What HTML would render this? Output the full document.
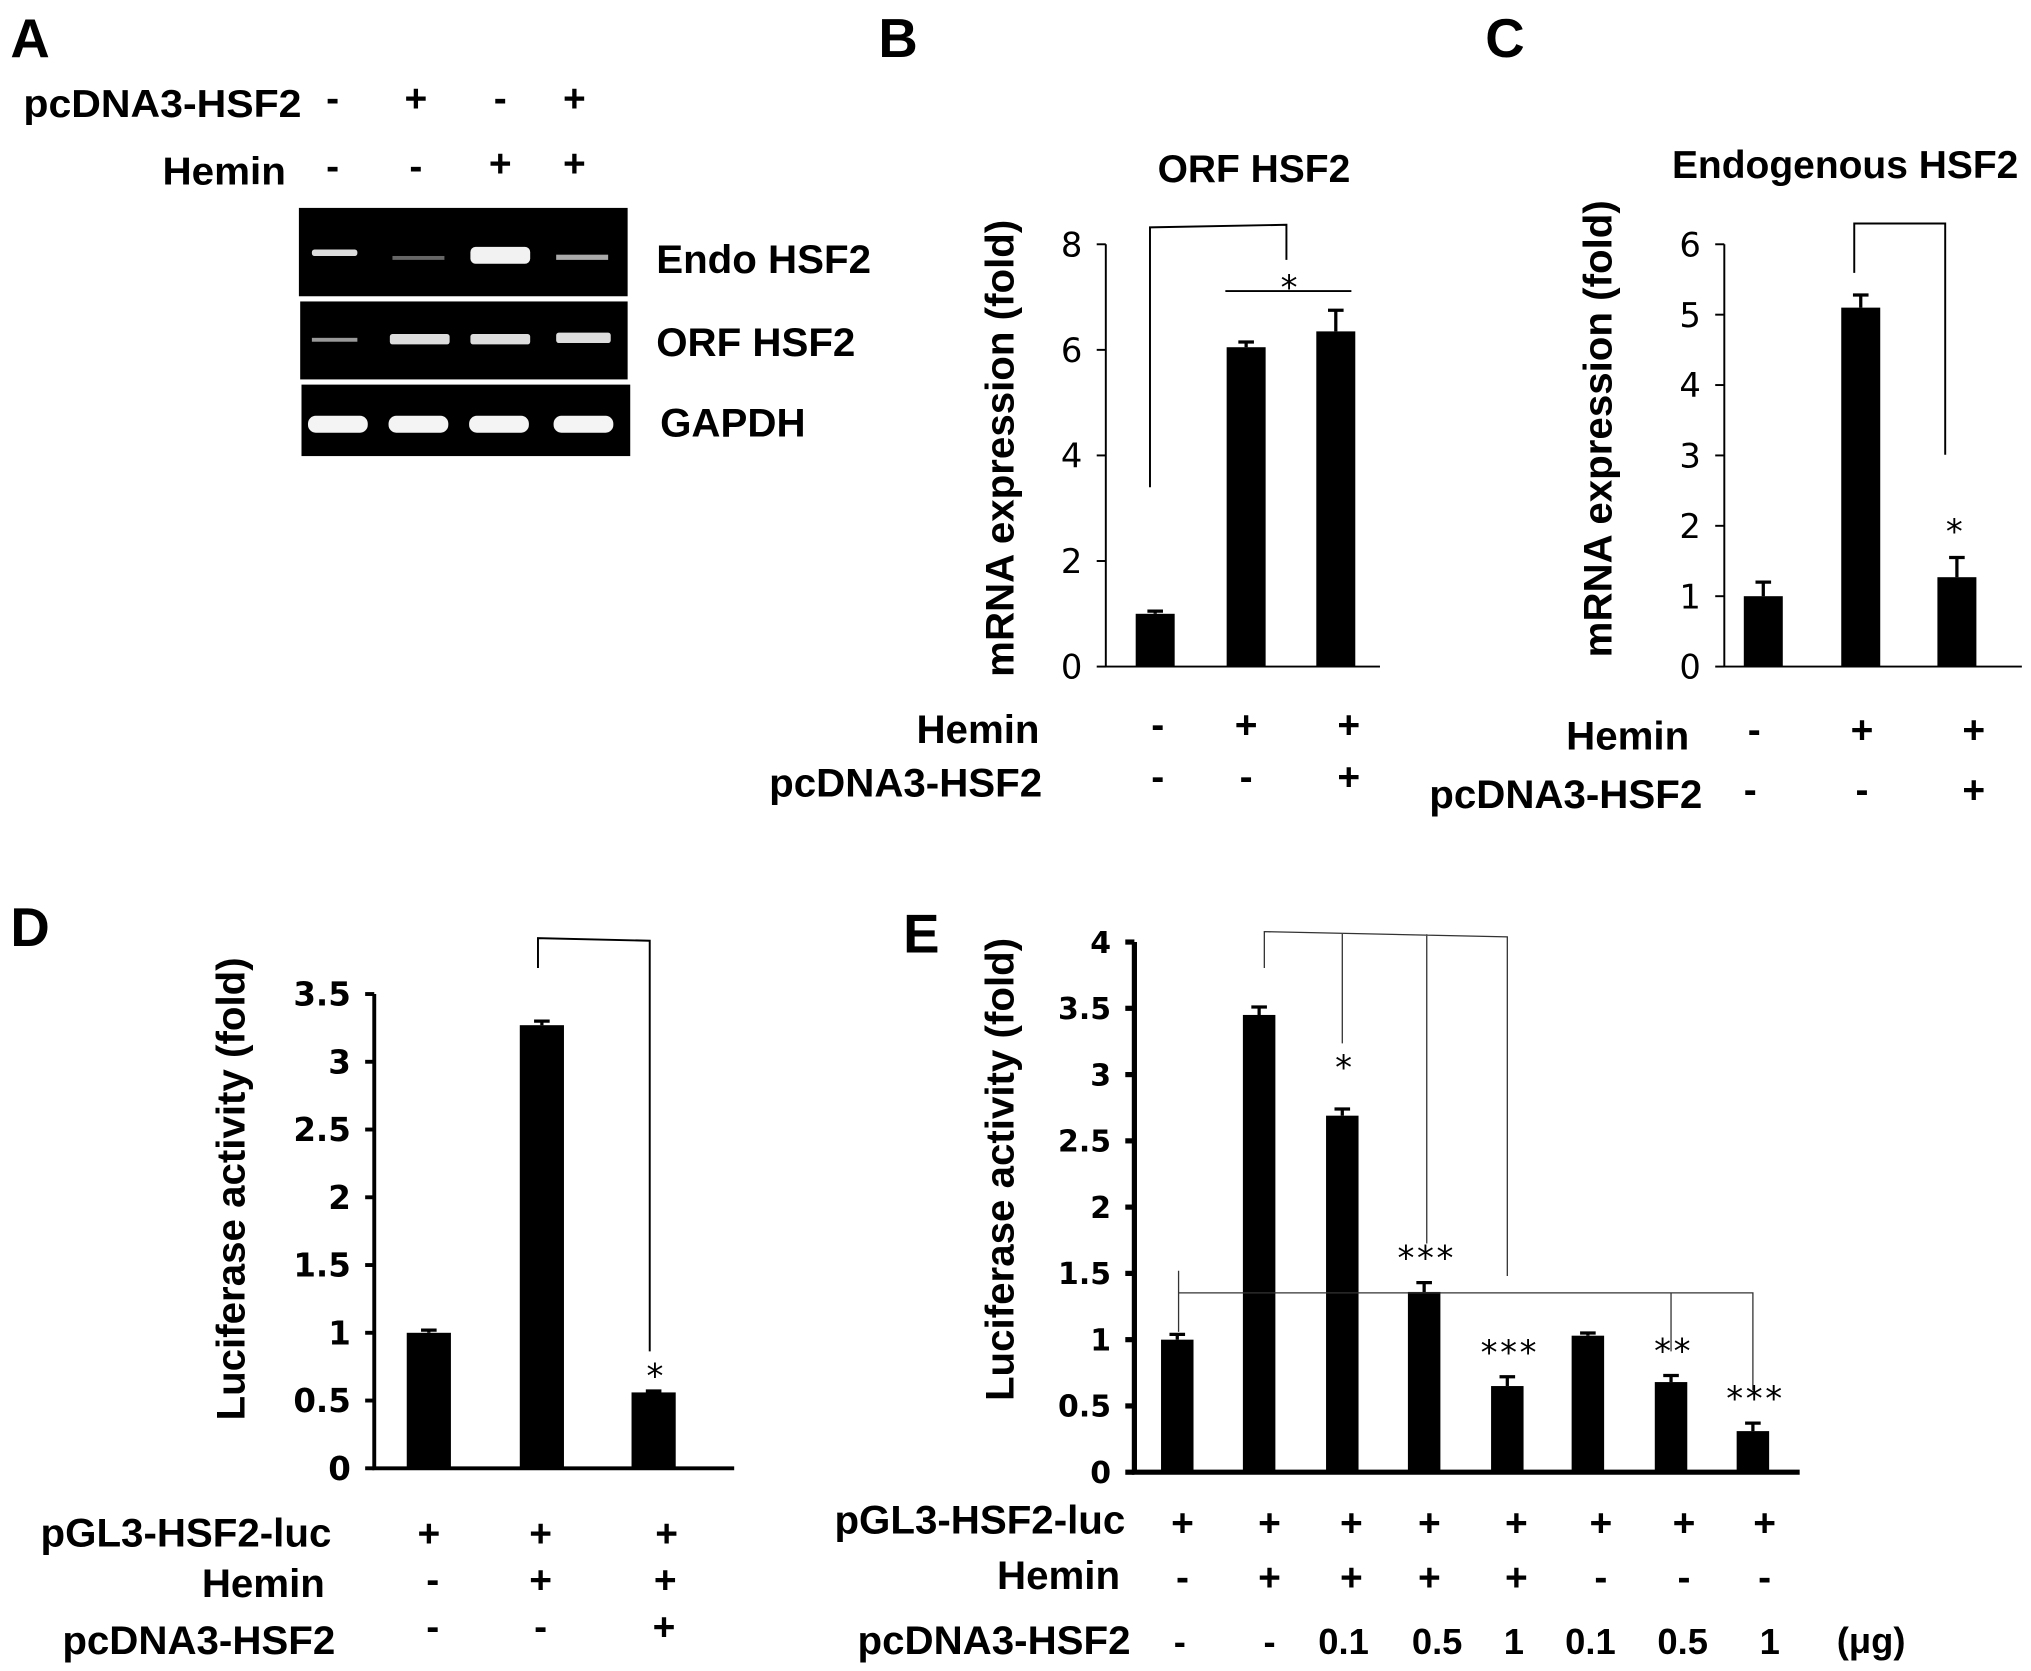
<!DOCTYPE html>
<html><head><meta charset="utf-8"><style>
html,body{margin:0;padding:0;background:#fff}
svg{display:block}
.lbl{font-family:"Liberation Sans Narrow","Liberation Sans",sans-serif;font-weight:bold;fill:#000}
.tick{font-family:"DejaVu Sans","Liberation Sans",sans-serif;fill:#000}
.pl{font-family:"Liberation Sans",sans-serif;font-weight:bold;fill:#000}
</style></head><body>
<svg id="fig" xmlns="http://www.w3.org/2000/svg" width="2031" height="1671" viewBox="0 0 1563 1286">
<rect width="1563" height="1286" fill="#fff"/>
<text class="pl" x="8" y="44" font-size="42">A</text>
<text class="pl" x="676" y="44" font-size="42">B</text>
<text class="pl" x="1143" y="44" font-size="42">C</text>
<text class="pl" x="8" y="728" font-size="42">D</text>
<text class="pl" x="695" y="733" font-size="42">E</text>

<g>
<text class="lbl" x="18" y="90" font-size="30" textLength="214" lengthAdjust="spacingAndGlyphs">pcDNA3-HSF2</text>
<text class="lbl" x="125" y="142" font-size="30" textLength="95" lengthAdjust="spacingAndGlyphs">Hemin</text>
<g class="lbl" font-size="30" text-anchor="middle">
<text x="256" y="86">-</text><text x="320" y="86">+</text><text x="385" y="86">-</text><text x="442" y="86">+</text>
<text x="256" y="138">-</text><text x="320" y="138">-</text><text x="385" y="136">+</text><text x="442" y="136">+</text>
</g>
<rect x="230" y="160" width="253" height="68" fill="#000"/>
<rect x="231" y="232" width="252" height="60" fill="#000"/>
<rect x="232" y="296" width="253" height="55" fill="#000"/>
<g fill="#ddd">
<rect x="240" y="192" width="35" height="5" rx="2"/>
<rect x="302" y="197" width="40" height="3" fill="#666"/>
<rect x="362" y="190" width="46" height="13" rx="4" fill="#f2f2f2"/>
<rect x="428" y="196" width="40" height="4" fill="#aaa"/>
<rect x="240" y="260" width="35" height="3" fill="#999"/>
<rect x="300" y="257" width="46" height="8" rx="2"/>
<rect x="362" y="257" width="46" height="8" rx="2"/>
<rect x="428" y="256" width="42" height="8" rx="2"/>
<rect x="237" y="320" width="46" height="13" rx="6" fill="#f4f4f4"/>
<rect x="299" y="320" width="46" height="13" rx="6" fill="#f4f4f4"/>
<rect x="361" y="320" width="46" height="13" rx="6" fill="#f4f4f4"/>
<rect x="426" y="320" width="46" height="13" rx="6" fill="#f4f4f4"/>
</g>
<text class="lbl" x="505" y="210" font-size="31">Endo HSF2</text>
<text class="lbl" x="505" y="274" font-size="31">ORF HSF2</text>
<text class="lbl" x="508" y="336" font-size="31">GAPDH</text>
</g>
<g id="charts"></g>
</svg>
<script>
// Panel B data
const bCats = ["ctrl","hemin","hemin+hsf2"];
const bVals = [1.0, 6.05, 6.35];
const bErrs = [0.05, 0.1, 0.4];
const bTicks = [0,2,4,6,8];
// Panel C data
const cCats = ["ctrl","hemin","hemin+hsf2"];
const cVals = [1.0, 5.1, 1.27];
const cErrs = [0.2, 0.18, 0.28];
const cTicks = [0,1,2,3,4,5,6];
// Panel D data
const dCats = ["ctrl","hemin","hemin+hsf2"];
const dVals = [1.0, 3.27, 0.56];
const dErrs = [0.02, 0.03, 0.01];
const dTicks = ["0","0.5","1","1.5","2","2.5","3","3.5"];
// Panel E data
const eCats = ["c1","c2","c3","c4","c5","c6","c7","c8"];
const eVals = [1.0, 3.45, 2.69, 1.36, 0.65, 1.03, 0.68, 0.31];
const eErrs = [0.04, 0.06, 0.05, 0.07, 0.07, 0.02, 0.05, 0.06];
const eTicks = ["0","0.5","1","1.5","2","2.5","3","3.5","4"];
const eStars = ["","","*","***","***","","**","***"];

const NS="http://www.w3.org/2000/svg";
const root=document.getElementById('charts');
function mk(tag,attrs,parent){const e=document.createElementNS(NS,tag);for(const k in attrs)e.setAttribute(k,attrs[k]);(parent||root).appendChild(e);return e;}
function txt(s,attrs,parent){const e=mk('text',attrs,parent);e.textContent=s;return e;}

function chart(o){
  const g=mk('g',{});
  
  
  const ymax=o.max;
  const y=v=>o.y0-(v/ymax)*(o.y0-o.y1);
  const x=i=>o.xc[i];
  o.vals.forEach((v,i)=>{
    const b=mk('rect',{x:x(i)-o.bw/2,y:y(v),width:o.bw,height:o.y0-y(v),fill:'#000'},g);
    
    
    const e=o.errs[i];
    const eb=mk('path',{d:`M${x(i)} ${y(v)} V${y(v+e)} M${x(i)-6} ${y(v+e)} H${x(i)+6}`,stroke:'#000','stroke-width':2.5,fill:'none'},g);
    
    
  });
  const ax=mk('path',{d:`M${o.x0} ${o.y1} V${o.y0} H${o.x2}`,stroke:'#000','stroke-width':o.aw,fill:'none'},g);
  
  
  o.ticks.forEach(t=>{
    const v=parseFloat(t);
    mk('line',{x1:o.x0-7,x2:o.x0,y1:y(v),y2:y(v),stroke:'#000','stroke-width':o.aw},g);
    const tl=txt(String(t),{x:o.x0-o.tgap,y:y(v)+o.tfs*0.36,'text-anchor':'end','font-size':o.tfs,class:o.tcls,'font-weight':o.tbold?'bold':'normal'},g);
    
    
  });
  const yt=txt(o.ytitle,{x:0,y:0,'text-anchor':'middle','font-size':31,class:'pl',transform:`translate(${o.ytx},${o.yty}) rotate(-90)`},g);
  
  
  return {g,y,x};
}

let B=chart({name:'chart-b',key:'b',vals:bVals,errs:bErrs,ticks:bTicks,max:8,x0:851,x2:1062,y0:513,y1:188,xc:[889,959,1028],bw:30,aw:1.5,tfs:26,tgap:18,tcls:'tick',ytitle:'mRNA expression (fold)',ytx:780,yty:345});
let t=txt('ORF HSF2',{x:965,y:140,'text-anchor':'middle','font-size':30,class:'pl'},B.g);


mk('path',{d:'M885 375 V175 L990 173 V200 M943 224 H1040',stroke:'#000','stroke-width':1.5,fill:'none'},B.g);
txt('*',{x:992,y:230,'text-anchor':'middle','font-size':26,class:'tick'},B.g);

let C=chart({name:'chart-c',key:'c',vals:cVals,errs:cErrs,ticks:cTicks,max:6,x0:1327,x2:1556,y0:513,y1:188,xc:[1357,1432,1506],bw:30,aw:1.5,tfs:26,tgap:18,tcls:'tick',ytitle:'mRNA expression (fold)',ytx:1240,yty:330});
t=txt('Endogenous HSF2',{x:1420,y:137,'text-anchor':'middle','font-size':30,class:'pl'},C.g);


mk('path',{d:'M1427 210 V172 H1497 V350',stroke:'#000','stroke-width':1.5,fill:'none'},C.g);
txt('*',{x:1504,y:418,'text-anchor':'middle','font-size':26,class:'tick'},C.g);

let D=chart({name:'chart-d',key:'d',vals:dVals,errs:dErrs,ticks:dTicks,max:3.5,x0:288,x2:565,y0:1130,y1:765,xc:[330,417,503],bw:34,aw:3,tfs:25,tgap:18,tcls:'tick',tbold:true,ytitle:'Luciferase activity (fold)',ytx:188,yty:915});
mk('path',{d:'M414 745 V722 L500 724 V1040',stroke:'#000','stroke-width':1.5,fill:'none'},D.g);
txt('*',{x:504,y:1068,'text-anchor':'middle','font-size':26,class:'tick'},D.g);

let E=chart({name:'chart-e',key:'e',vals:eVals,errs:eErrs,ticks:eTicks,max:4,x0:873,x2:1385,y0:1133,y1:725,xc:[906,969,1033,1096,1160,1222,1286,1349],bw:25,aw:4,tfs:23,tgap:18,tcls:'tick',tbold:true,ytitle:'Luciferase activity (fold)',ytx:780,yty:900});
mk('path',{d:'M973 745 V717 L1160 721 V982 M1033 718 V803 M1098 719 V957',stroke:'#333','stroke-width':1,fill:'none'},E.g);
mk('path',{d:'M907 978 V1025 M907 995 H1349 V1070 M1286 995 V1040',stroke:'#333','stroke-width':1,fill:'none'},E.g);
eStars.forEach((s,i)=>{ if(!s) return;
  const v=eVals[i]+eErrs[i];
  const off = i===2?35 : 22;
  const st=txt(s,{x:E.x(i)+2,y:E.y(v)-off+12,'text-anchor':'middle','font-size':26,class:'tick','letter-spacing':2},E.g);
  
  
});

function row(label,lx,ly,items,xs,sy,fs,name){
  const g=mk('g',{});
  
  
  txt(label,{x:lx,y:ly,'text-anchor':'end','font-size':31,class:'lbl'},g);
  items.forEach((s,i)=>txt(s,{x:xs[i],y:sy,'text-anchor':'middle','font-size':fs||30,class:'lbl'},g));
}
row('Hemin',800,572,['-','+','+'],[891,959,1038],568,30,'row-b-hemin');
row('pcDNA3-HSF2',802,613,['-','-','+'],[891,959,1038],608,30,'row-b-pcdna3');
row('Hemin',1300,577,['-','+','+'],[1350,1433,1519],572,30,'row-c-hemin');
row('pcDNA3-HSF2',1310,622,['-','-','+'],[1347,1433,1519],618,30,'row-c-pcdna3');
row('pGL3-HSF2-luc',255,1190,['+','+','+'],[330,416,513],1190,30,'row-d-pgl3');
row('Hemin',250,1229,['-','+','+'],[333,416,512],1226,30,'row-d-hemin');
row('pcDNA3-HSF2',258,1273,['-','-','+'],[333,416,511],1262,30,'row-d-pcdna3');
const ex=[910,977,1040,1100,1167,1232,1296,1358];
row('pGL3-HSF2-luc',866,1180,['+','+','+','+','+','+','+','+'],ex,1182,30,'row-e-pgl3');
row('Hemin',862,1223,['-','+','+','+','+','-','-','-'],ex,1224,30,'row-e-hemin');
row('pcDNA3-HSF2',870,1273,['-','-','0.1','0.5','1','0.1','0.5','1'],[908,977,1034,1106,1165,1224,1295,1362],1273,28,'row-e-pcdna3');
t=txt('(μg)',{x:1440,y:1272,'text-anchor':'middle','font-size':28,class:'lbl'});


</script>
</body></html>
